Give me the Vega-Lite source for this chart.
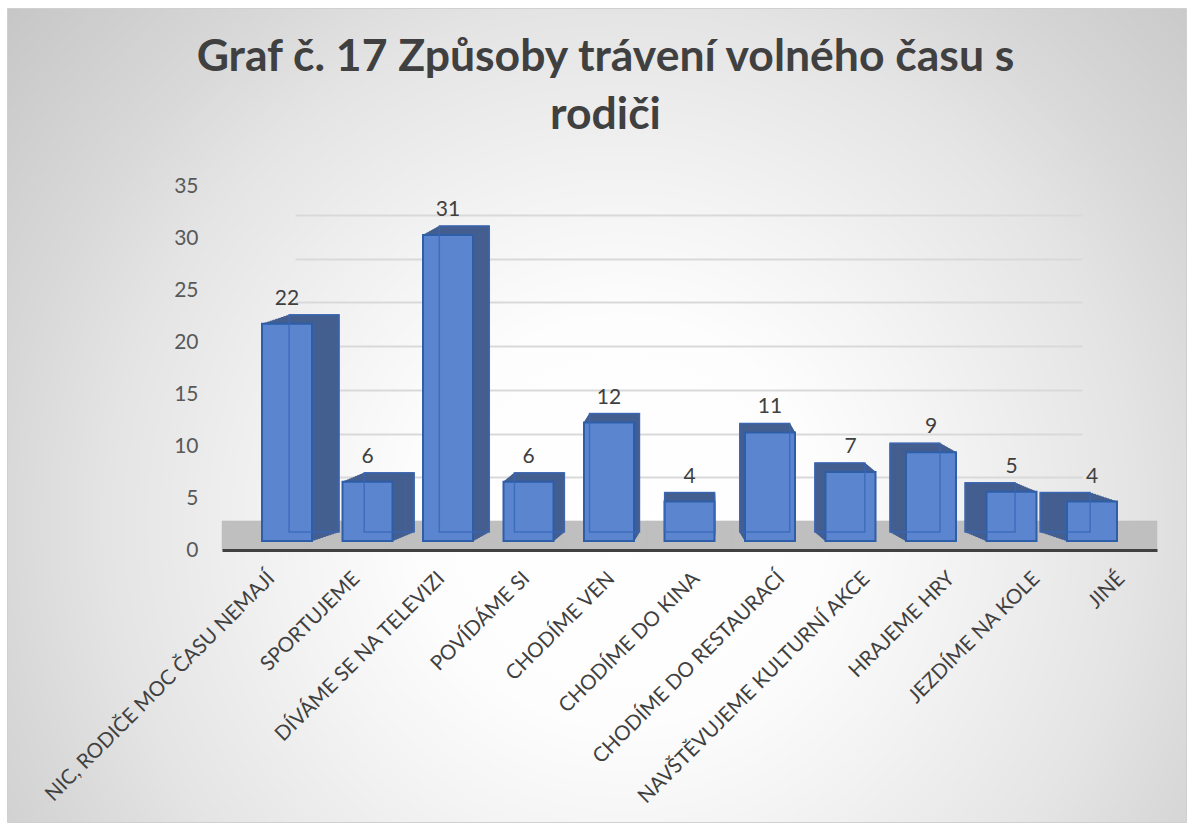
{
  "$schema": "https://vega.github.io/schema/vega-lite/v6.json",
  "width": 1179,
  "height": 814,
  "autosize": {"type": "none"},
  "padding": {"left": 7, "top": 8, "right": 6, "bottom": 7},
  "background": "#ffffff",
  "config": {
    "font": "Lato",
    "view": {
      "fill": {
        "gradient": "radial",
        "x1": 0.52, "y1": 0.59, "r1": 0,
        "x2": 0.52, "y2": 0.59, "r2": 0.68,
        "stops": [
          {"offset": 0, "color": "#ffffff"},
          {"offset": 0.25, "color": "#fdfdfd"},
          {"offset": 0.4, "color": "#f4f4f4"},
          {"offset": 0.64, "color": "#e4e4e4"},
          {"offset": 0.77, "color": "#d8d8d8"},
          {"offset": 1, "color": "#c6c6c6"}
        ]
      },
      "stroke": "#d0d0d0",
      "strokeWidth": 1
    }
  },
  "title": {
    "text": ["Graf č. 17 Způsoby trávení volného času s", "rodiči"],
    "font": "Lato",
    "fontSize": 44.5,
    "fontWeight": "bold",
    "color": "#404040",
    "anchor": "middle",
    "frame": "group",
    "baseline": "top",
    "offset": -130,
    "lineHeight": 58,
    "dx": 9
  },
  "data": {
    "values": [
      {"cat": "NIC, RODIČE MOC ČASU NEMAJÍ", "value": 22},
      {"cat": "SPORTUJEME", "value": 6},
      {"cat": "DÍVÁME SE NA TELEVIZI", "value": 31},
      {"cat": "POVÍDÁME SI", "value": 6},
      {"cat": "CHODÍME VEN", "value": 12},
      {"cat": "CHODÍME DO KINA", "value": 4},
      {"cat": "CHODÍME DO RESTAURACÍ", "value": 11},
      {"cat": "NAVŠTĚVUJEME KULTURNÍ AKCE", "value": 7},
      {"cat": "HRAJEME HRY", "value": 9},
      {"cat": "JEZDÍME NA KOLE", "value": 5},
      {"cat": "JINÉ", "value": 4}
    ]
  },
  "transform": [{"window": [{"op": "row_number", "as": "i"}]}],
  "resolve": {"scale": {"x": "independent", "y": "independent"}},
  "layer": [
    {
      "mark": {"type": "point", "opacity": 0},
      "encoding": {
        "x": {"field": "cat", "type": "nominal", "sort": null, "scale": {"range": [288, 1075]}, "axis": null},
        "y": {
          "datum": 0, "type": "quantitative",
          "scale": {"domain": [0, 35], "range": [513, 207], "nice": false},
          "axis": {"orient": "left", "grid": true, "gridColor": "#d9d9d9", "gridWidth": 1.8, "labels": false, "ticks": false, "domain": false, "values": [5, 10, 15, 20, 25, 30, 35], "title": null}
        }
      }
    },
    {
      "mark": {"type": "rect", "color": "#bfbfbf", "stroke": "#bfbfbf", "strokeWidth": 0.5},
      "encoding": {
        "x": {
          "field": "cat", "type": "nominal", "sort": null,
          "scale": {"range": [215, 1150], "paddingInner": 0, "paddingOuter": 0},
          "axis": {"orient": "bottom", "offset": -272, "title": null, "labelAngle": -45, "labelAlign": "right", "labelBaseline": "top", "labelFont": "Lato", "labelFontSize": 20.5, "labelColor": "#404040", "ticks": false, "labelPadding": 18, "labelLimit": 500, "domainColor": "#404040", "domainWidth": 3, "zindex": 1}
        },
        "y": {
          "datum": 0, "type": "quantitative",
          "scale": {"domain": [0, 35], "range": [542, 178], "nice": false},
          "axis": {"orient": "left", "offset": -215, "values": [0, 5, 10, 15, 20, 25, 30, 35], "grid": false, "ticks": false, "domain": false, "labelPadding": 24, "labelFont": "Lato", "labelFontSize": 21, "labelColor": "#595959", "title": null}
        },
        "y2": {"datum": 2.8}
      }
    },
    {
      "encoding": {
        "x": {"field": "cat", "type": "nominal", "sort": null, "scale": {"range": [215, 1150], "paddingInner": 0.379, "paddingOuter": 0.497}, "axis": null},
        "y": {"field": "value", "type": "quantitative", "scale": {"domain": [0, 35], "range": [533, 187.5], "nice": false}, "axis": null}
      },
      "layer": [
        {"mark": {"type": "bar", "color": "#445f90", "stroke": "#445f90", "strokeWidth": 1, "xOffset": {"expr": "1.0*(32.46-5.39*datum.i)"}, "x2Offset": {"expr": "1.0*(32.46-5.39*datum.i)"}, "yOffset": -9, "y2Offset": -9}},
        {"mark": {"type": "bar", "color": "#445f90", "stroke": "#445f90", "strokeWidth": 1, "xOffset": {"expr": "0.9*(32.46-5.39*datum.i)"}, "x2Offset": {"expr": "0.9*(32.46-5.39*datum.i)"}, "yOffset": -8.1, "y2Offset": -8.1}},
        {"mark": {"type": "bar", "color": "#445f90", "stroke": "#445f90", "strokeWidth": 1, "xOffset": {"expr": "0.8*(32.46-5.39*datum.i)"}, "x2Offset": {"expr": "0.8*(32.46-5.39*datum.i)"}, "yOffset": -7.2, "y2Offset": -7.2}},
        {"mark": {"type": "bar", "color": "#445f90", "stroke": "#445f90", "strokeWidth": 1, "xOffset": {"expr": "0.7*(32.46-5.39*datum.i)"}, "x2Offset": {"expr": "0.7*(32.46-5.39*datum.i)"}, "yOffset": -6.3, "y2Offset": -6.3}},
        {"mark": {"type": "bar", "color": "#445f90", "stroke": "#445f90", "strokeWidth": 1, "xOffset": {"expr": "0.6*(32.46-5.39*datum.i)"}, "x2Offset": {"expr": "0.6*(32.46-5.39*datum.i)"}, "yOffset": -5.4, "y2Offset": -5.4}},
        {"mark": {"type": "bar", "color": "#445f90", "stroke": "#445f90", "strokeWidth": 1, "xOffset": {"expr": "0.5*(32.46-5.39*datum.i)"}, "x2Offset": {"expr": "0.5*(32.46-5.39*datum.i)"}, "yOffset": -4.5, "y2Offset": -4.5}},
        {"mark": {"type": "bar", "color": "#445f90", "stroke": "#445f90", "strokeWidth": 1, "xOffset": {"expr": "0.4*(32.46-5.39*datum.i)"}, "x2Offset": {"expr": "0.4*(32.46-5.39*datum.i)"}, "yOffset": -3.6, "y2Offset": -3.6}},
        {"mark": {"type": "bar", "color": "#445f90", "stroke": "#445f90", "strokeWidth": 1, "xOffset": {"expr": "0.3*(32.46-5.39*datum.i)"}, "x2Offset": {"expr": "0.3*(32.46-5.39*datum.i)"}, "yOffset": -2.7, "y2Offset": -2.7}},
        {"mark": {"type": "bar", "color": "#445f90", "stroke": "#445f90", "strokeWidth": 1, "xOffset": {"expr": "0.2*(32.46-5.39*datum.i)"}, "x2Offset": {"expr": "0.2*(32.46-5.39*datum.i)"}, "yOffset": -1.8, "y2Offset": -1.8}},
        {"mark": {"type": "bar", "color": "#445f90", "stroke": "#445f90", "strokeWidth": 1, "xOffset": {"expr": "0.1*(32.46-5.39*datum.i)"}, "x2Offset": {"expr": "0.1*(32.46-5.39*datum.i)"}, "yOffset": -0.9, "y2Offset": -0.9}},
        {"mark": {"type": "bar", "color": "#5b86cf", "stroke": "#2f5ea8", "strokeWidth": 2}},
        {"mark": {"type": "bar", "fillOpacity": 0, "stroke": "#3866b8", "strokeOpacity": 0.8, "strokeWidth": 1.5, "xOffset": {"expr": "1.0*(32.46-5.39*datum.i)"}, "x2Offset": {"expr": "1.0*(32.46-5.39*datum.i)"}, "yOffset": -9, "y2Offset": -9}},
        {"mark": {"type": "text", "dy": -19, "baseline": "alphabetic", "font": "Lato", "fontSize": 21, "color": "#404040"}, "encoding": {"text": {"field": "value", "type": "quantitative"}}}
      ]
    }
  ]
}
